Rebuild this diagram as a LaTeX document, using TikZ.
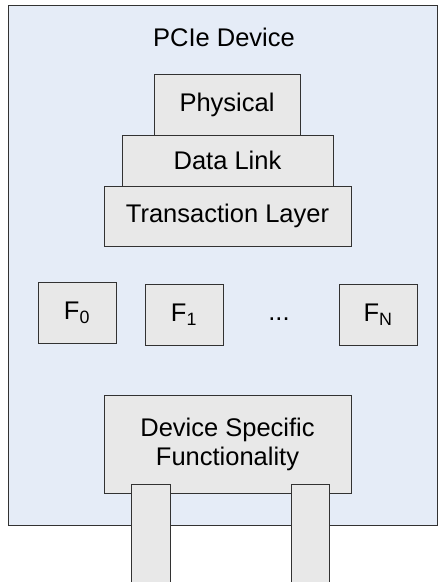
\documentclass[tikz,border=0pt]{standalone}
\usepackage{fontspec}
\setmainfont{Liberation Sans}
\definecolor{devfill}{RGB}{229,236,247}
\definecolor{boxfill}{RGB}{232,232,232}
\definecolor{edge}{RGB}{50,50,50}
\begin{document}
\begin{tikzpicture}[x=1pt,y=-1pt,
  outer/.style={draw=edge, line width=1pt, fill=devfill, rectangle, inner sep=0pt},
  box/.style={draw=edge, line width=1pt, fill=boxfill, rectangle, inner sep=0pt, align=center, font=\fontsize{25.5}{29}\selectfont},
  lbl/.style={inner sep=0pt, font=\fontsize{25.5}{29}\selectfont}]
\useasboundingbox (0,0) rectangle (438,582);
\clip (0,0) rectangle (438,582);
\fill[white] (0,0) rectangle (438,582);
\node[outer, minimum width=429pt, minimum height=520pt] (dev) at (222.5,265) {};
\node[lbl] (title) at (224,37) {PCIe Device};
\node[box, minimum width=146pt, minimum height=61pt] (phys) at (227,104.5) {Physical};
\node[box, minimum width=211pt, minimum height=51pt] (dl) at (227.5,160.5) {Data Link};
\node[box, minimum width=247pt, minimum height=60pt] (tl) at (227.5,216) {Transaction Layer};
\node[box, minimum width=78pt, minimum height=61pt] (f0) at (77,312.5) {F\textsubscript{0}};
\node[box, minimum width=78pt, minimum height=61pt] (f1) at (184,314.5) {F\textsubscript{1}};
\node[lbl] (dots) at (279,319) {...};
\node[box, minimum width=78pt, minimum height=61pt] (fn) at (378,314.5) {F\textsubscript{N}};
\node[box, minimum width=247pt, minimum height=98pt] (dsf) at (227.5,444) {Device Specific\\Functionality};
\node[box, minimum width=39pt, minimum height=116pt] (legl) at (150.5,542) {};
\node[box, minimum width=38pt, minimum height=116pt] (legr) at (310,542) {};
\end{tikzpicture}
\end{document}
